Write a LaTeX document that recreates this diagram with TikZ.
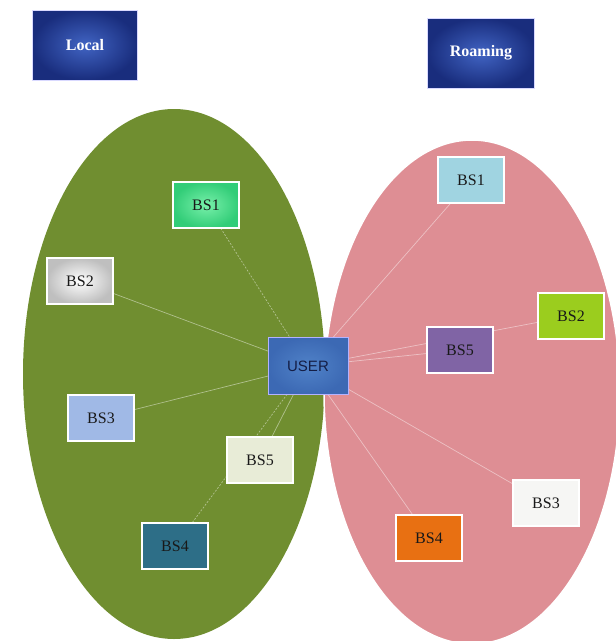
\documentclass[tikz,border=0pt]{standalone}
\usepackage{fontspec}
\setmainfont{Liberation Serif}
\newfontfamily\usersans{Liberation Sans}
\usetikzlibrary{backgrounds}
\pgfdeclarelayer{bottom}
\pgfsetlayers{bottom,background,main}
\definecolor{greenell}{RGB}{112,142,48}
\definecolor{pinkell}{RGB}{222,142,148}
\definecolor{hdrdark}{RGB}{25,45,125}
\definecolor{hdrlight}{RGB}{65,100,195}
\tikzset{
  ell/.style={draw=white,line width=1.5pt},
  bsbox/.style={draw=white,line width=1.8pt,minimum width=66pt,minimum height=46pt,inner sep=0pt,
     font=\fontsize{16}{16}\selectfont,text=black!90},
  hdr/.style={draw=white!85!blue,line width=0.8pt,minimum width=105pt,minimum height=70pt,inner sep=0pt,
     inner color=hdrlight,outer color=hdrdark,text=white,font=\bfseries\fontsize{16}{16}\selectfont},
  link/.style={line width=0.7pt,draw=white,draw opacity=0.45},
}
\begin{document}
\begin{tikzpicture}[x=1pt,y=-1pt]
\useasboundingbox (0,0) rectangle (616,641);
\begin{pgfonlayer}{bottom}
\fill[white] (0,0) rectangle (616,641);
\fill[greenell] (174,374) ellipse [x radius=151, y radius=265];
\draw[ell,fill=pinkell] (472,392) ellipse [x radius=148, y radius=252];
\end{pgfonlayer}
% headers
\node[hdr] (local) at (85,45) {Local};
\node[hdr,minimum width=107pt] (roam) at (481,53) {Roaming};
% user
\node[draw=white!70!blue,line width=1pt,minimum width=80pt,minimum height=57pt,inner sep=0pt,
  inner color={rgb,255:red,80;green,130;blue,200},outer color={rgb,255:red,60;green,105;blue,180},
  text={rgb,255:red,20;green,30;blue,70},font=\usersans\fontsize{15}{15}\selectfont] (user) at (308,366) {USER};
% left BS
\node[bsbox,inner color={rgb,255:red,120;green,240;blue,170},outer color={rgb,255:red,50;green,205;blue,120}] (lb1) at (206,205) {BS1};
\node[bsbox,inner color=white,outer color=black!25] (lb2) at (80,281) {BS2};
\node[bsbox,fill={rgb,255:red,160;green,185;blue,230}] (lb3) at (101,418) {BS3};
\node[bsbox,fill={rgb,255:red,232;green,236;blue,215}] (lb5) at (260,460) {BS5};
\node[bsbox,fill={rgb,255:red,45;green,110;blue,135}] (lb4) at (175,546) {BS4};
% right BS
\node[bsbox,fill={rgb,255:red,160;green,212;blue,225}] (rb1) at (471,180) {BS1};
\node[bsbox,fill={rgb,255:red,155;green,205;blue,30}] (rb2) at (571,316) {BS2};
\node[bsbox,fill={rgb,255:red,128;green,100;blue,165}] (rb5) at (460,350) {BS5};
\node[bsbox,fill={rgb,255:red,246;green,246;blue,244}] (rb3) at (546,503) {BS3};
\node[bsbox,fill={rgb,255:red,232;green,112;blue,18}] (rb4) at (429,538) {BS4};
% links
\begin{pgfonlayer}{background}
\draw[link,dash pattern=on 2pt off 1.5pt] (user.center) -- (lb1.center);
\draw[link] (user.center) -- (lb2.center);
\draw[link] (user.center) -- (lb3.center);
\draw[link] (user.center) -- (lb5.center);
\draw[link,dash pattern=on 2pt off 1.5pt] (user.center) -- (lb4.center);
\draw[link] (user.center) -- (rb1.center);
\draw[link] (user.center) -- (rb2.center);
\draw[link] (user.center) -- (rb5.center);
\draw[link] (user.center) -- (rb3.center);
\draw[link] (user.center) -- (rb4.center);
\end{pgfonlayer}
\end{tikzpicture}
\end{document}
